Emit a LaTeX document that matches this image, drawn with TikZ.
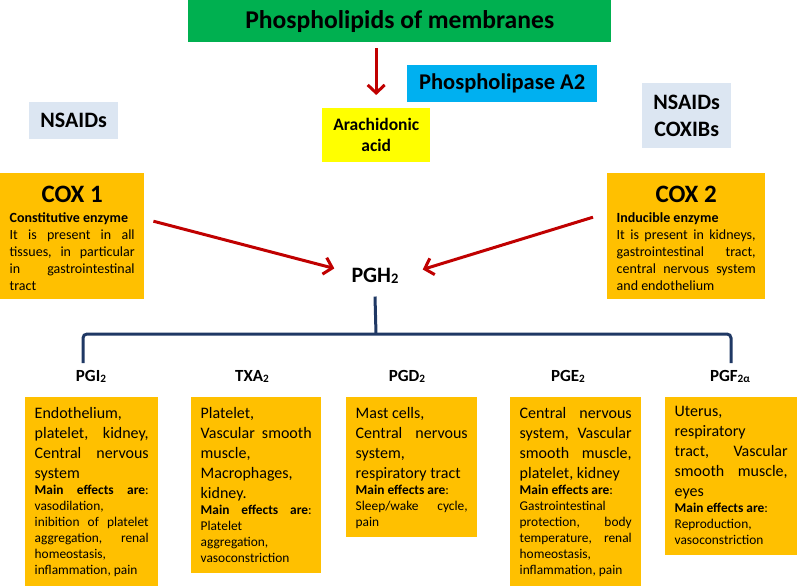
\documentclass[tikz,border=0pt]{standalone}
\usepackage{fontspec}
\setmainfont{Carlito}
\usepackage{xcolor}
\usepackage{tikz}
\usetikzlibrary{arrows.meta}
\definecolor{membgreen}{RGB}{0,176,80}
\definecolor{lipaseblue}{RGB}{0,176,240}
\definecolor{acidyellow}{RGB}{255,255,0}
\definecolor{coxorange}{RGB}{255,192,0}
\definecolor{druggrey}{RGB}{220,230,242}
\definecolor{arrowred}{RGB}{192,0,0}
\definecolor{treenavy}{RGB}{31,56,100}
\newcommand{\bigtxt}{\fontsize{16}{20}\selectfont}
\newcommand{\smalltxt}{\fontsize{13.4}{16}\selectfont}
\newcommand{\pgsub}[1]{\raisebox{-0.06em}{\scalebox{0.66}{#1}}}
\newcommand{\boxsetup}{\pretolerance=10000\tolerance=10000\hbadness=10000\hyphenpenalty=10000}
\newcommand{\boxbody}[3]{\parbox[t][#1pt][t]{#2pt}{\boxsetup #3}}
\tikzset{
membranebox/.style={rectangle, fill=membgreen, inner sep=0pt, anchor=north west, font=\fontsize{25.6}{28}\selectfont\bfseries},
lipasebox/.style={rectangle, fill=lipaseblue, inner sep=0pt, anchor=north west, font=\fontsize{22.5}{24}\selectfont\bfseries},
acidbox/.style={rectangle, fill=acidyellow, inner sep=0pt, anchor=north west, align=center, font=\fontsize{17.5}{21}\selectfont\bfseries},
drugbox/.style={rectangle, fill=druggrey, inner sep=0pt, anchor=north west, align=center, font=\fontsize{22}{27}\selectfont\bfseries},
orangebox/.style={rectangle, fill=coxorange, inner xsep=9.5pt, inner ysep=9pt, anchor=north west},
pglabel/.style={inner sep=0pt, anchor=base, font=\fontsize{17}{17}\selectfont\bfseries},
redarrow/.style={draw=arrowred, line width=3pt, -{Straight Barb[length=8pt,width=17pt]}},
treeline/.style={draw=treenavy, line width=3pt, rounded corners=4pt},
}

\begin{document}
\begin{tikzpicture}[x=1pt,y=-1pt]
  \useasboundingbox (0,0) rectangle (798,586);

  \node[membranebox, minimum width=423pt, minimum height=42pt] at (188,0) (membranes) {Phospholipids of membranes};
  \node[lipasebox, minimum width=190pt, minimum height=37pt] at (407,65) (lipase) {Phospholipase A2};
  \node[acidbox, minimum width=108pt, minimum height=54pt] at (322,108) (arach) {Arachidonic\\acid};
  \node[drugbox, minimum width=89pt, minimum height=37pt] at (29,102) (nsaidleft) {NSAIDs};
  \node[drugbox, minimum width=89pt, minimum height=65pt] at (642,83) (nsaidright) {NSAIDs\\COXIBs};
  \draw[redarrow] ([yshift=-6pt]arach.north |- membranes.south) -- ([yshift=13pt]arach.north);

  \node[orangebox] at (0,173) (cox1box) {\boxbody{108}{125}{%
    {\fontsize{25}{24}\selectfont\bfseries\centering\rule{0pt}{20pt}COX~1\par}
    {\fontsize{14}{20}\selectfont\bfseries Constitutive~enzyme\par}
    \fontsize{14}{17}\selectfont It~is~present~in~all\linebreak tissues,~in~particular\linebreak in~gastrointestinal\linebreak tract}};
  \node[orangebox] at (607,173) (cox2box) {\boxbody{108}{139}{%
    {\fontsize{25}{24}\selectfont\bfseries\centering\rule{0pt}{20pt}COX~2\par}
    {\fontsize{14}{20}\selectfont\bfseries Inducible~enzyme\par}
    \fontsize{14}{17}\selectfont It~is~present~in~kidneys,\linebreak gastrointestinal~tract,\linebreak central~nervous~system\linebreak and~endothelium}};

  \node[pglabel, font=\fontsize{22}{22}\selectfont\bfseries] at (375,282) (pgh) {PGH\pgsub{2}};
  \draw[redarrow] ([xshift=9pt,yshift=15pt]cox1box.east) -- ([xshift=-17pt,yshift=7pt]pgh.west);
  \draw[redarrow] ([xshift=-14pt,yshift=19pt]cox2box.west) -- ([xshift=24pt,yshift=6pt]pgh.east);

  \coordinate (treemid) at (376,334);
  \coordinate (treeleft) at (83,363);
  \coordinate (treeright) at (731,363);
  \draw[treeline] ([yshift=-13pt]pgh.south) -- (treemid);
  \draw[treeline] (treeleft) |- (treemid) -| (treeright);

  \node[pglabel] at (91,381) (pgi) {PGI\pgsub{2}};
  \node[pglabel] at (252,381) (txa) {TXA\pgsub{2}};
  \node[pglabel] at (407,381) (pgd) {PGD\pgsub{2}};
  \node[pglabel] at (568,381) (pge) {PGE\pgsub{2}};
  \node[pglabel] at (730,381) (pgf) {PGF\pgsub{2α}};

  \node[orangebox] at (25,397) (pgibox) {\boxbody{171}{114}{%
    \bigtxt\rule{0pt}{12pt}Endothelium,\\ platelet,~kidney,\linebreak Central~nervous\linebreak system\par
    \smalltxt\textbf{Main~effects~are}:\linebreak vasodilation,\\ inibition~of~platelet\linebreak aggregation,~renal\linebreak homeostasis,\\ inflammation,~pain}};
  \node[orangebox] at (191,397) (txabox) {\boxbody{158}{111}{%
    \bigtxt\rule{0pt}{12pt}Platelet,\\ Vascular~smooth\linebreak muscle,\\ Macrophages,\\ kidney.\par
    \smalltxt\textbf{Main~effects~are}:\linebreak Platelet\\ aggregation,\\ vasoconstriction}};
  \node[orangebox] at (346,397) (pgdbox) {\boxbody{122}{112}{%
    \bigtxt\rule{0pt}{12pt}Mast~cells,\\ Central~nervous\linebreak system,\\ respiratory~tract\par
    \smalltxt\textbf{Main~effects~are}:\\ Sleep/wake~cycle,\linebreak pain}};
  \node[orangebox] at (510,397) (pgebox) {\boxbody{171}{112}{%
    \bigtxt\rule{0pt}{12pt}Central~nervous\linebreak system,~Vascular\linebreak smooth~muscle,\linebreak platelet,~kidney\par
    \smalltxt\textbf{Main~effects~are}:\\ Gastrointestinal\\ protection,~body\linebreak temperature,~renal\linebreak homeostasis,\\ inflammation,~pain}};
  \node[orangebox] at (665,397) (pgfbox) {\boxbody{140}{113}{%
    \bigtxt\rule{0pt}{9pt}Uterus,\\ respiratory\\ tract,~Vascular\linebreak smooth~muscle,\linebreak eyes\par
    \smalltxt\textbf{Main~effects~are}:\\ Reproduction,\\ vasoconstriction}};
\end{tikzpicture}
\end{document}
